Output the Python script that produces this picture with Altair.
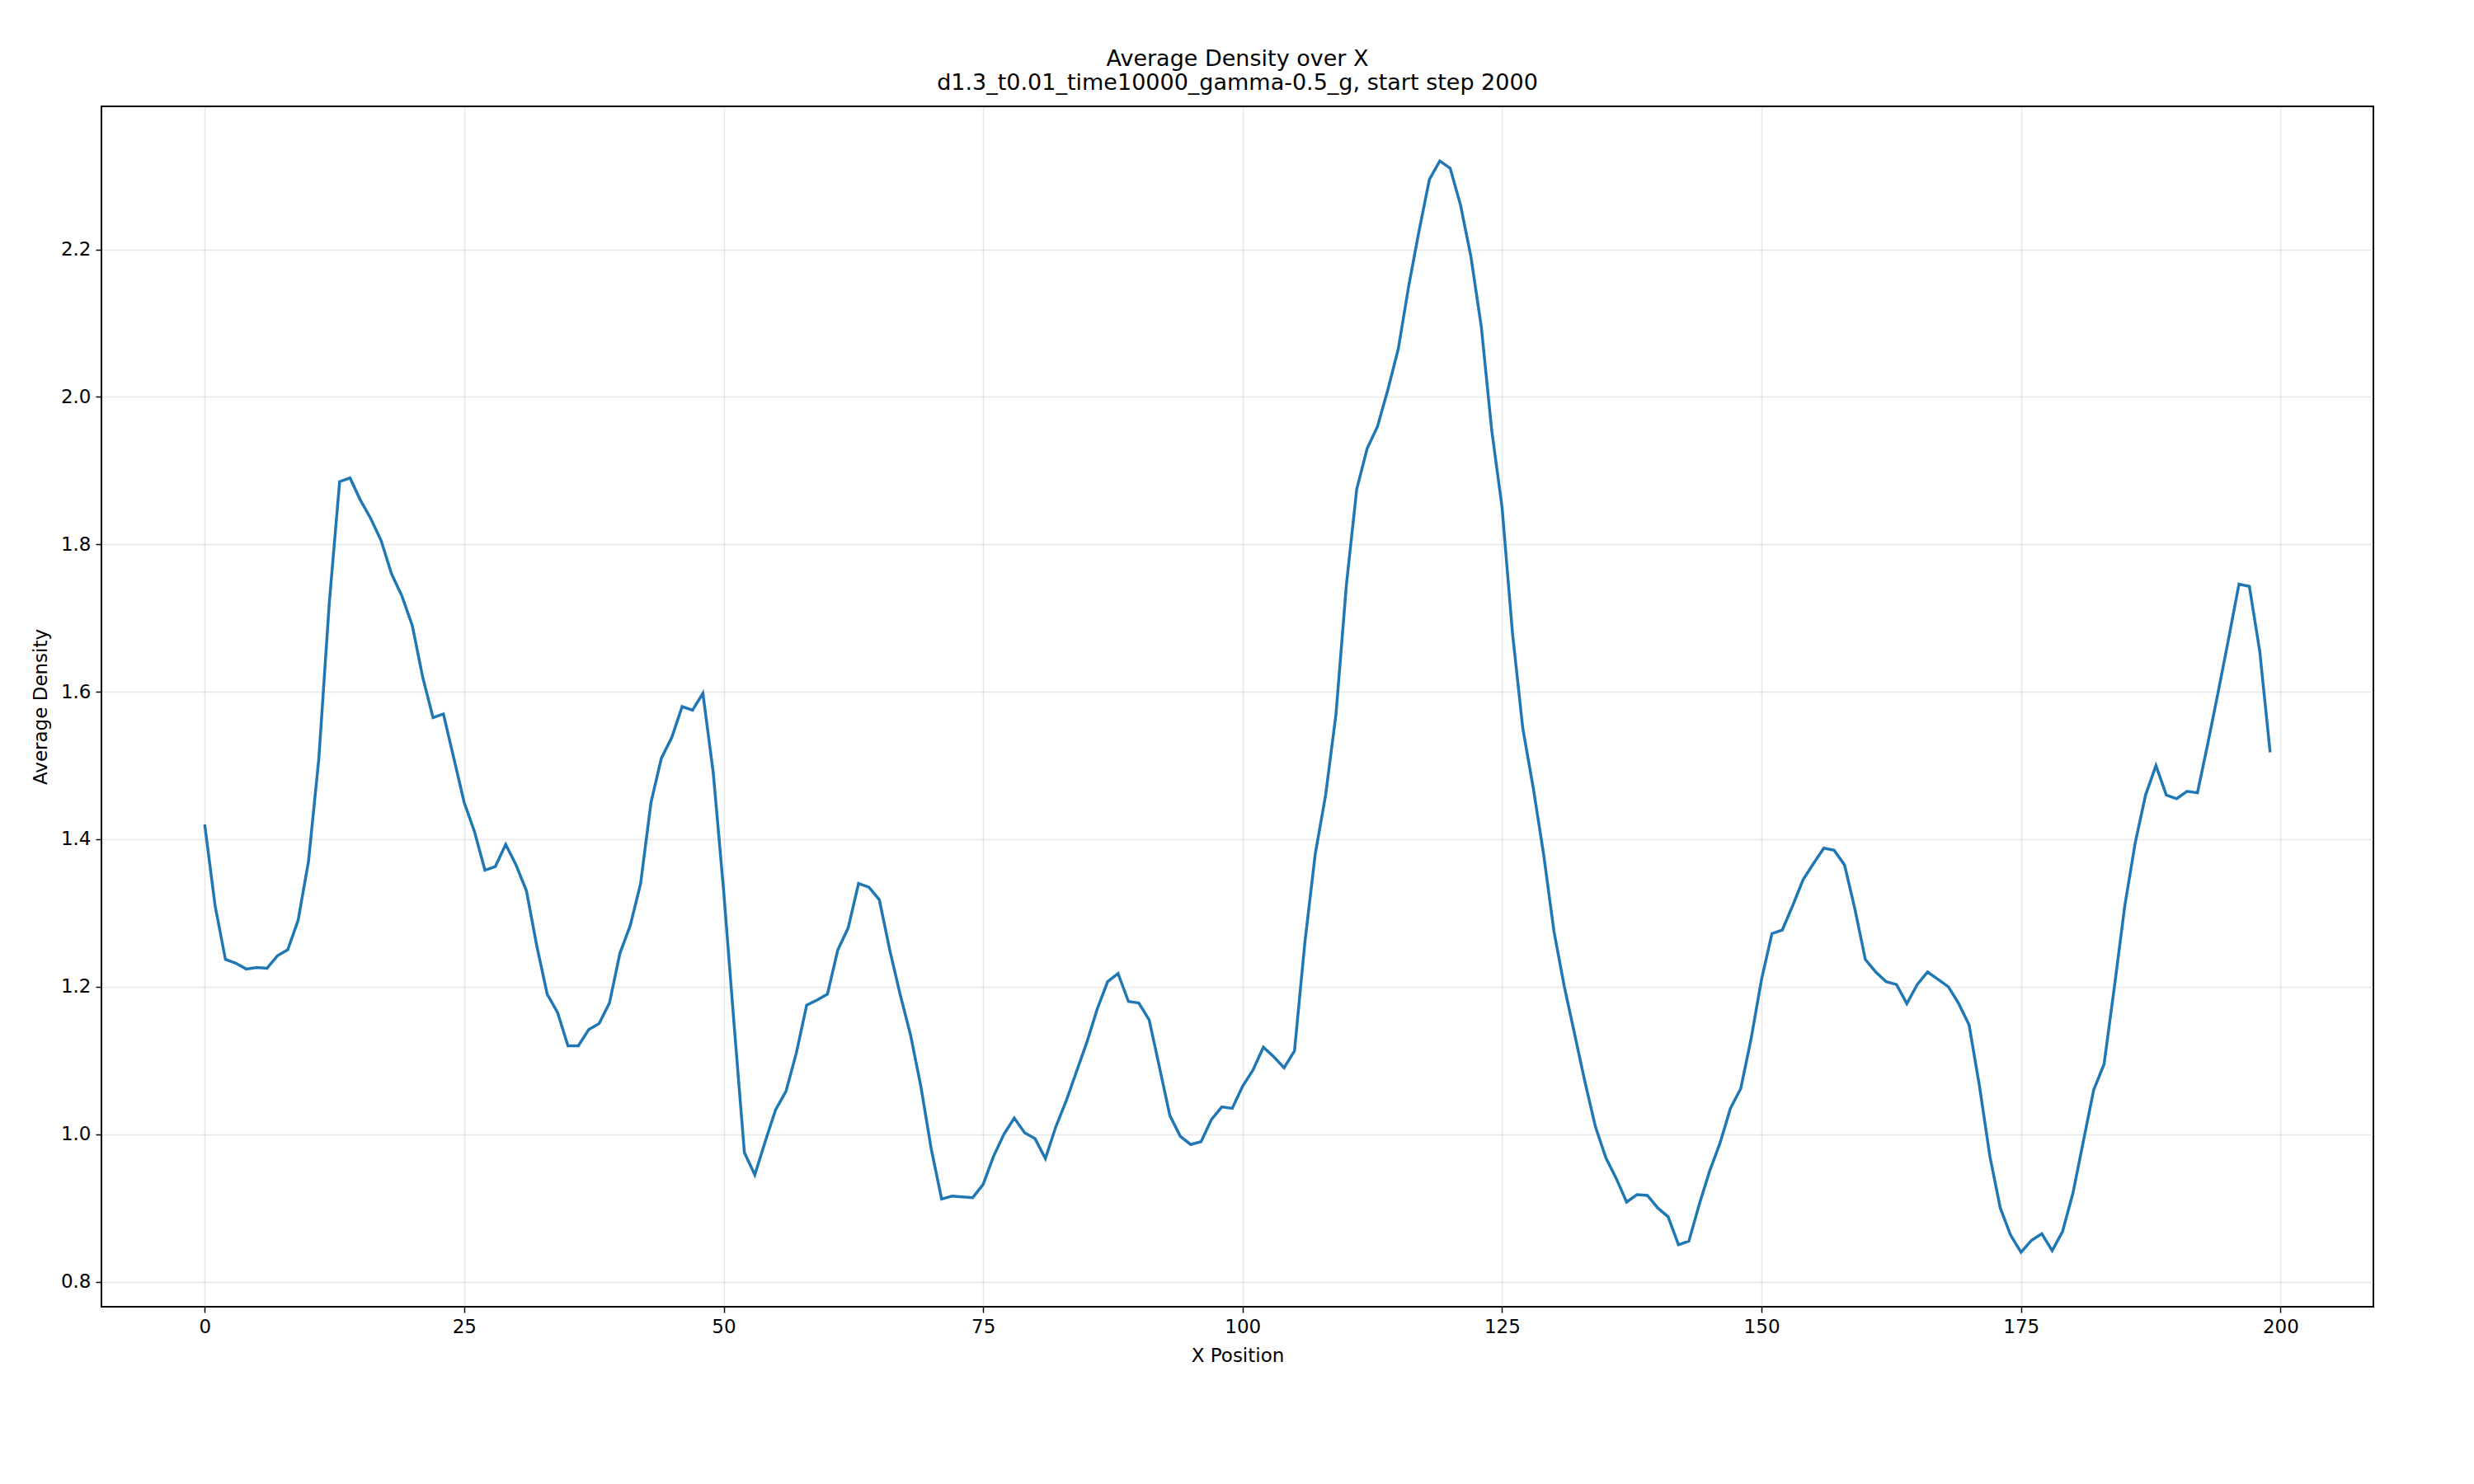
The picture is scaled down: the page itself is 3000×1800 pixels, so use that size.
import altair as alt
import pandas as pd

density = [
    1.42, 1.31, 1.237, 1.232, 1.224, 1.226, 1.225, 1.242, 1.25, 1.29,
    1.37, 1.51, 1.72, 1.885, 1.89, 1.86, 1.835, 1.805, 1.76, 1.73,
    1.69, 1.62, 1.565, 1.57, 1.51, 1.45, 1.41, 1.358, 1.363, 1.393,
    1.365, 1.33, 1.255, 1.19, 1.165, 1.12, 1.12, 1.142, 1.15, 1.178,
    1.245, 1.283, 1.34, 1.45, 1.51, 1.538, 1.58, 1.575, 1.598, 1.49,
    1.33, 1.15, 0.975, 0.945, 0.99, 1.033, 1.058, 1.11, 1.175, 1.182,
    1.19, 1.25, 1.28, 1.34, 1.335, 1.318, 1.25, 1.19, 1.135, 1.065,
    0.98, 0.912, 0.916, 0.915, 0.914, 0.932, 0.97, 1.0, 1.022, 1.002,
    0.994, 0.967, 1.01, 1.045, 1.085, 1.125, 1.17, 1.207, 1.218, 1.18,
    1.178, 1.155, 1.09, 1.025, 0.997, 0.986, 0.99, 1.02, 1.037, 1.035,
    1.065, 1.087, 1.118, 1.105, 1.09, 1.113, 1.26, 1.38, 1.46, 1.57,
    1.745, 1.875, 1.93, 1.96, 2.01, 2.065, 2.15, 2.225, 2.295, 2.32,
    2.31, 2.26, 2.19, 2.095, 1.955, 1.85, 1.68, 1.55, 1.47, 1.38,
    1.275, 1.2, 1.135, 1.07, 1.01, 0.968, 0.94, 0.908, 0.918, 0.917,
    0.9, 0.888, 0.85, 0.855, 0.905, 0.95, 0.988, 1.035, 1.062, 1.13,
    1.21, 1.272, 1.277, 1.31, 1.345, 1.367, 1.388, 1.385, 1.365, 1.305,
    1.237, 1.22, 1.207, 1.203, 1.177, 1.203, 1.22, 1.21, 1.2, 1.177,
    1.148, 1.065, 0.97, 0.9, 0.863, 0.84, 0.856, 0.865, 0.842, 0.868,
    0.92, 0.99, 1.06, 1.095, 1.2, 1.31, 1.395, 1.46, 1.5, 1.46,
    1.455, 1.465, 1.463, 1.53, 1.6, 1.672, 1.746, 1.743, 1.655, 1.518,
]
x_ticks = [0, 25, 50, 75, 100, 125, 150, 175, 200]
y_ticks = [0.8, 1.0, 1.2, 1.4, 1.6, 1.8, 2.0, 2.2]

df = pd.DataFrame({"x": list(range(len(density))), "density": density})

chart = alt.Chart(
    df,
    title=alt.Title(
        ["Average Density over X", "d1.3_t0.01_time10000_gamma-0.5_g, start step 2000"],
        fontSize=27, fontWeight="normal", font="DejaVu Sans", color="black", offset=14,
    ),
).mark_line(color="#1f77b4", strokeWidth=3.5).encode(
    x=alt.X("x:Q", title="X Position",
            scale=alt.Scale(domain=[-9.95, 208.95], nice=False, zero=False),
            axis=alt.Axis(values=x_ticks, format="d")),
    y=alt.Y("density:Q", title="Average Density",
            scale=alt.Scale(domain=[0.766, 2.394], nice=False, zero=False),
            axis=alt.Axis(values=y_ticks, format=".1f")),
).properties(
    width=2755, height=1456, background="white",
    padding={"left": 30, "top": 50, "right": 20, "bottom": 20},
).configure_view(
    stroke="black", strokeWidth=2,
).configure_axis(
    labelFont="DejaVu Sans", titleFont="DejaVu Sans",
    labelFontSize=23, titleFontSize=23, titleFontWeight="normal",
    labelColor="black", titleColor="black",
    gridColor="#b0b0b0", gridOpacity=0.3, gridWidth=1.5,
    domain=False, tickColor="black", tickSize=7, tickWidth=1.5,
    labelPadding=6, titlePadding=12,
)

chart.save("out.html", embed_options={"renderer": "svg", "actions": False})
